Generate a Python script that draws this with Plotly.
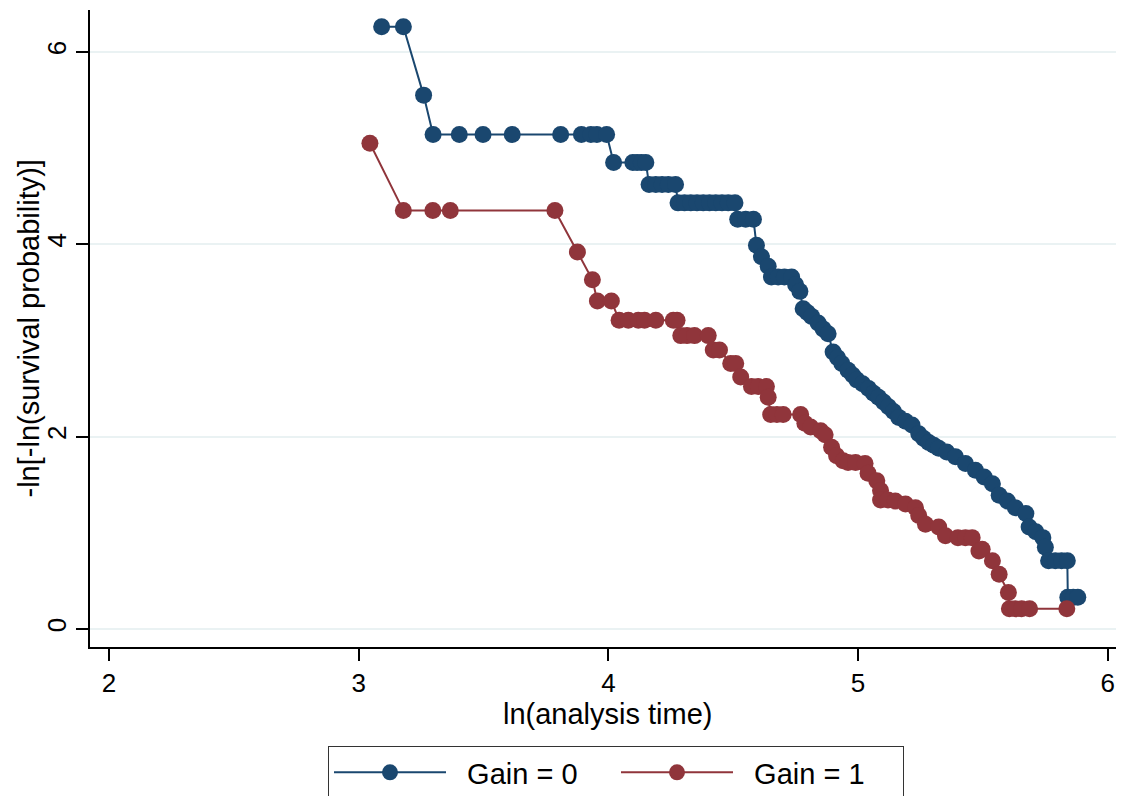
import plotly.graph_objects as go

# Gain = 0
x0 = [3.092, 3.179, 3.260, 3.298, 3.403, 3.498, 3.615, 3.809, 3.892, 3.930, 3.954, 3.993,
      4.021, 4.098, 4.115, 4.132, 4.150,
      4.163, 4.190, 4.215, 4.240, 4.269,
      4.279, 4.305, 4.330, 4.355, 4.380, 4.405, 4.430, 4.455, 4.480, 4.507,
      4.518, 4.550, 4.581,
      4.593, 4.613, 4.640, 4.653, 4.680, 4.705, 4.734, 4.750, 4.767, 4.780, 4.797,
      4.814, 4.840, 4.860, 4.880, 4.900, 4.918, 4.935, 4.960, 4.978, 4.995, 5.018,
      5.042, 5.062, 5.082, 5.102, 5.122, 5.142, 5.163, 5.190, 5.216, 5.243, 5.263,
      5.283, 5.303, 5.323, 5.355, 5.390, 5.430, 5.470, 5.505, 5.538, 5.565, 5.598,
      5.630, 5.672, 5.685, 5.712, 5.740, 5.750, 5.763, 5.790, 5.815, 5.838,
      5.840, 5.862, 5.880]
y0 = [6.26, 6.26, 5.55, 5.14, 5.14, 5.14, 5.14, 5.14, 5.14, 5.14, 5.14, 5.14,
      4.85, 4.85, 4.85, 4.85, 4.85,
      4.62, 4.62, 4.62, 4.62, 4.62,
      4.43, 4.43, 4.43, 4.43, 4.43, 4.43, 4.43, 4.43, 4.43, 4.43,
      4.26, 4.26, 4.26,
      3.99, 3.87, 3.77, 3.66, 3.66, 3.66, 3.66, 3.58, 3.51, 3.33, 3.29,
      3.25, 3.18, 3.12, 3.07, 2.88, 2.82, 2.76, 2.69, 2.64, 2.59, 2.55,
      2.50, 2.45, 2.41, 2.36, 2.31, 2.26, 2.20, 2.16, 2.12, 2.03, 1.98,
      1.94, 1.91, 1.88, 1.84, 1.79, 1.72, 1.65, 1.58, 1.51, 1.39, 1.33,
      1.26, 1.20, 1.06, 1.01, 0.95, 0.85, 0.71, 0.71, 0.71, 0.71,
      0.33, 0.33, 0.33]

# Gain = 1
x1 = [3.045, 3.179, 3.297, 3.367, 3.786, 3.876, 3.936, 3.956, 4.012,
      4.043, 4.080, 4.120, 4.145, 4.190, 4.260, 4.275,
      4.290, 4.315, 4.345, 4.400, 4.420, 4.445, 4.490, 4.510, 4.530,
      4.573, 4.600, 4.633, 4.640, 4.650, 4.675, 4.700, 4.770, 4.787,
      4.810, 4.850, 4.868, 4.894, 4.914, 4.940, 4.960, 4.990, 5.028, 5.040,
      5.075, 5.090, 5.090, 5.120, 5.149, 5.190, 5.230, 5.243, 5.270, 5.323,
      5.350, 5.400, 5.430, 5.457, 5.484, 5.497, 5.538, 5.565, 5.602,
      5.606, 5.630, 5.655, 5.687, 5.836]
y1 = [5.05, 4.35, 4.35, 4.35, 4.35, 3.92, 3.63, 3.41, 3.41,
      3.21, 3.21, 3.21, 3.21, 3.21, 3.21, 3.21,
      3.05, 3.05, 3.05, 3.05, 2.90, 2.90, 2.76, 2.76, 2.62,
      2.52, 2.52, 2.52, 2.41, 2.23, 2.23, 2.23, 2.23, 2.14,
      2.10, 2.06, 2.02, 1.89, 1.80, 1.75, 1.73, 1.73, 1.72, 1.62,
      1.54, 1.44, 1.34, 1.34, 1.33, 1.30, 1.26, 1.18, 1.09, 1.06,
      0.97, 0.95, 0.95, 0.95, 0.81, 0.83, 0.71, 0.57, 0.38,
      0.21, 0.21, 0.21, 0.21, 0.21]

names = ["Gain = 0", "Gain = 1"]
colors = ["#1a476f", "#90353b"]

xticks = [2, 3, 4, 5, 6]
yticks = [0, 2, 4, 6]
x_title = "ln(analysis time)"
y_title = "-ln[-ln(survival probability)]"

FONT = "Liberation Sans, Arial, Helvetica, sans-serif"
NB = "\u00a0\u00a0"

# the page body has an 8px margin, so the figure is sized to fill the rest
W, H = 1116, 788

fig = go.Figure()
for xs, ys, nm, c in [(x0, y0, names[0], colors[0]), (x1, y1, names[1], colors[1])]:
    fig.add_trace(go.Scatter(
        x=xs, y=ys, name=NB + nm, mode="lines+markers",
        line=dict(color=c, width=2),
        marker=dict(color=c, size=17, line=dict(width=0)),
    ))

fig.update_layout(
    width=W, height=H,
    margin=dict(l=82, r=2, t=2, b=149),
    paper_bgcolor="white", plot_bgcolor="white",
    font=dict(family=FONT, color="black"),
    showlegend=True,
    legend=dict(
        orientation="h", xref="container", yref="container",
        x=320 / W, xanchor="left", y=1 - 738 / H, yanchor="top",
        bordercolor="#333333", borderwidth=1, bgcolor="white",
        font=dict(size=29, family=FONT, color="black"),
        itemwidth=112, entrywidth=160, entrywidthmode="pixels",
        traceorder="normal",
    ),
    xaxis=dict(
        range=[1.924, 6.057], tickvals=xticks, ticktext=[str(t) for t in xticks],
        showgrid=False, zeroline=False,
        showline=True, linecolor="black", linewidth=1.5,
        ticks="outside", ticklen=12, tickwidth=1.5, tickcolor="black",
        tickfont=dict(size=26),
    ),
    yaxis=dict(
        range=[-0.187, 6.435], tickvals=yticks, ticktext=[str(t) for t in yticks],
        showgrid=True, gridcolor="#eaf2f3", gridwidth=2, zeroline=False,
        showline=True, linecolor="black", linewidth=1.5,
        ticks="outside", ticklen=12, tickwidth=1.5, tickcolor="black",
        tickangle=-90, tickfont=dict(size=26),
    ),
    annotations=[
        dict(text=x_title, xref="paper", yref="paper", x=0.5, y=0,
             xanchor="center", yanchor="middle", xshift=2, yshift=-67,
             showarrow=False, font=dict(size=29, family=FONT, color="black")),
        dict(text=y_title, xref="paper", yref="paper", x=0, y=0.5,
             xanchor="center", yanchor="middle", xshift=-62, textangle=-90,
             showarrow=False, font=dict(size=29, family=FONT, color="black")),
    ],
)

fig.write_html("out.html")
